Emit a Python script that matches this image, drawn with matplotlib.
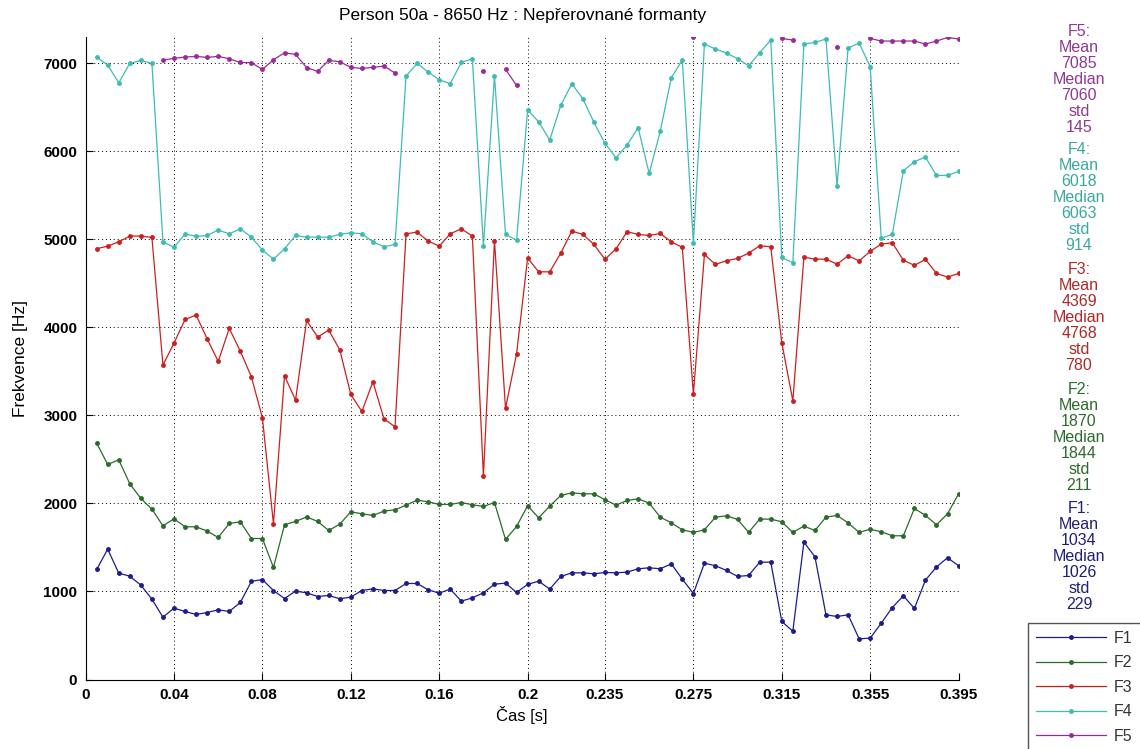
import numpy as np
import matplotlib
matplotlib.use('Agg')
import matplotlib.pyplot as plt

plt.rcParams['font.family'] = ['Liberation Sans', 'DejaVu Sans']

# frame times [s]
time_s = [0.005, 0.010, 0.015, 0.020, 0.025, 0.030, 0.035, 0.040, 0.045, 0.050,
          0.055, 0.060, 0.065, 0.070, 0.075, 0.080, 0.085, 0.090, 0.095, 0.100,
          0.105, 0.110, 0.115, 0.120, 0.125, 0.130, 0.135, 0.140, 0.145, 0.150,
          0.155, 0.160, 0.165, 0.170, 0.175, 0.180, 0.185, 0.190, 0.195, 0.200,
          0.205, 0.210, 0.215, 0.220, 0.225, 0.230, 0.235, 0.240, 0.245, 0.250,
          0.255, 0.260, 0.265, 0.270, 0.275, 0.280, 0.285, 0.290, 0.295, 0.300,
          0.305, 0.310, 0.315, 0.320, 0.325, 0.330, 0.335, 0.340, 0.345, 0.350,
          0.355, 0.360, 0.365, 0.370, 0.375, 0.380, 0.385, 0.390, 0.395]

nan = np.nan
f1 = [1250, 1481, 1208, 1174, 1072, 913, 708, 811, 773, 739,
      761, 792, 773, 875, 1114, 1136, 1011, 920, 1004, 985,
      943, 955, 917, 936, 1011, 1030, 1011, 1011, 1091, 1091,
      1019, 981, 1027, 890, 928, 985, 1083, 1095, 989, 1081,
      1117, 1027, 1171, 1212, 1212, 1201, 1216, 1212, 1220, 1258,
      1269, 1258, 1314, 1140, 977, 1322, 1292, 1239, 1171, 1182,
      1333, 1333, 659, 549, 1561, 1394, 735, 716, 735, 462,
      470, 640, 818, 951, 807, 1129, 1280, 1383, 1292]
f2 = [2686, 2443, 2496, 2224, 2057, 1936, 1746, 1826, 1735, 1735,
      1686, 1614, 1773, 1792, 1602, 1602, 1273, 1758, 1796, 1847,
      1796, 1693, 1765, 1905, 1883, 1864, 1913, 1928, 1981, 2038,
      2019, 1989, 1989, 2011, 1985, 1966, 2011, 1591, 1739, 1974,
      1837, 1970, 2091, 2121, 2110, 2110, 2042, 1981, 2034, 2053,
      2004, 1845, 1780, 1701, 1671, 1701, 1845, 1860, 1818, 1672,
      1822, 1822, 1792, 1671, 1743, 1693, 1845, 1864, 1780, 1671,
      1708, 1678, 1633, 1633, 1943, 1864, 1758, 1883, 2110]
f3 = [4894, 4924, 4973, 5038, 5038, 5023, 3572, 3822, 4091, 4140,
      3871, 3614, 3989, 3731, 3439, 2973, 1769, 3451, 3174, 4080,
      3890, 3970, 3746, 3239, 3045, 3383, 2962, 2871, 5064, 5083,
      4981, 4924, 5064, 5121, 5038, 2311, 4985, 3080, 3701, 4788,
      4632, 4632, 4845, 5095, 5057, 4943, 4773, 4894, 5087, 5057,
      5045, 5068, 4973, 4909, 3242, 4829, 4716, 4758, 4784, 4845,
      4928, 4917, 3826, 3167, 4799, 4776, 4776, 4719, 4814, 4757,
      4864, 4947, 4962, 4765, 4705, 4773, 4614, 4572, 4614]
f4 = [7072, 6981, 6780, 7000, 7034, 7000, 4973, 4909, 5064, 5034,
      5045, 5106, 5064, 5121, 5026, 4879, 4776, 4894, 5045, 5026,
      5026, 5026, 5057, 5076, 5064, 4973, 4917, 4943, 6856, 7000,
      6902, 6814, 6769, 7011, 7053, 4924, 6856, 5057, 4992, 6470,
      6337, 6129, 6523, 6769, 6598, 6330, 6091, 5928, 6072, 6269,
      5750, 6227, 6837, 7038, 4954, 7220, 7163, 7117, 7053, 6973,
      7121, 7265, 4795, 4735, 7220, 7239, 7277, 5606, 7174, 7231,
      6962, 5015, 5057, 5780, 5883, 5936, 5727, 5727, 5773]
f5 = [nan, nan, nan, nan, nan, nan, 7038, 7057, 7072, 7080,
      7068, 7080, 7053, 7011, 7008, 6932, 7042, 7121, 7102, 6953,
      6909, 7034, 7019, 6955, 6943, 6955, 6970, 6890, nan, nan,
      nan, nan, nan, nan, nan, 6909, nan, 6932, 6750, nan,
      nan, nan, nan, nan, nan, nan, nan, nan, nan, nan,
      nan, nan, nan, nan, 7299, nan, nan, nan, nan, nan,
      nan, nan, 7284, 7265, nan, nan, nan, 7189, nan, nan,
      7284, 7254, 7254, 7254, 7254, 7220, 7254, 7295, 7277]

names = ['F1', 'F2', 'F3', 'F4', 'F5']
line_colors = ['#1c1c8c', '#2b6b2b', '#cc1f1f', '#3dbcb4', '#9a2a9a']
text_colors = ['#1f1f78', '#2d6a2d', '#b02828', '#3aa8a0', '#8e3a8e']
stats = {'F1': (1034, 1026, 229), 'F2': (1870, 1844, 211), 'F3': (4369, 4768, 780),
         'F4': (6018, 6063, 914), 'F5': (7085, 7060, 145)}

xtick_pos = [0, 0.04, 0.08, 0.12, 0.16, 0.2, 0.235, 0.275, 0.315, 0.355, 0.395]
xtick_lab = ['0', '0.04', '0.08', '0.12', '0.16', '0.2', '0.235', '0.275', '0.315', '0.355', '0.395']
ytick_pos = [0, 1000, 2000, 3000, 4000, 5000, 6000, 7000]

W, H = 1140, 749
fig = plt.figure(figsize=(W / 100, H / 100), dpi=100)
ax = fig.add_axes([85.6 / W, 1 - 679.5 / H, 873 / W, 642.5 / H])

series = [f1, f2, f3, f4, f5]
for y, name, c in zip(series, names, line_colors):
    ax.plot(time_s, y, color=c, lw=0.9, marker='.', ms=5, label=name)

ax.set_xlim(0, 0.395)
ax.set_ylim(0, 7300)
ax.set_xticks(xtick_pos)
ax.set_xticklabels(xtick_lab)
ax.set_yticks(ytick_pos)
for lab in ax.get_xticklabels() + ax.get_yticklabels():
    lab.set_fontweight('bold')
    lab.set_fontsize(11)
ax.tick_params(direction='in', length=5, width=0.8, pad=6)
ax.grid(True, linestyle=(0, (1, 3)), color='black', lw=0.7)
ax.spines['top'].set_visible(False)
ax.spines['right'].set_visible(False)

ax.set_title('Person 50a - 8650 Hz : Nepřerovnané formanty', fontsize=12.5, pad=12)
ax.set_xlabel('Čas [s]', fontsize=12, labelpad=3)
ax.set_ylabel('Frekvence [Hz]', fontsize=12.5, labelpad=11)

# stats column on the right, one block per formant, F5 on top
tops = [508.3, 389.3, 269.3, 150.0, 31.7]
for name, c, top in zip(names, text_colors, tops):
    mean, med, sd = stats[name]
    lines = [name + ':', 'Mean', str(mean), 'Median', str(med), 'std', str(sd)]
    for i, s in enumerate(lines):
        fig.text(1079 / W, 1 - (top + 16 * i) / H, s, color=c, fontsize=11.5,
                 ha='center', va='center')

leg = ax.legend(loc='upper left', bbox_to_anchor=(1027.7 / W, 1 - 622.7 / H),
                bbox_transform=fig.transFigure, borderaxespad=0, fontsize=11.5,
                handlelength=4.4, handletextpad=0.5, labelspacing=0.6, borderpad=0.5,
                fancybox=False, framealpha=1, edgecolor='#555555')
for txt in leg.get_texts():
    txt.set_color('#333333')

fig.savefig('out.png', dpi=100)
